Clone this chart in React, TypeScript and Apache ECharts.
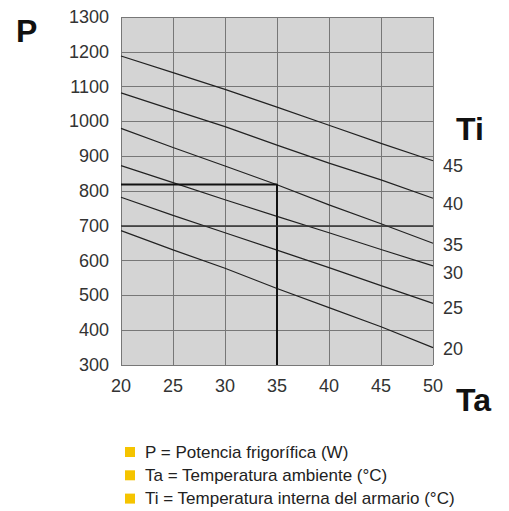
import React, { useEffect, useRef } from "react";
import * as echarts from "echarts";

const taValues = [20, 25, 30, 35, 40, 45, 50];
const tiLevels = [20, 25, 30, 35, 40, 45];
const pTi20 = [686, 631, 578, 520, 465, 410, 350];
const pTi25 = [782, 730, 680, 630, 580, 528, 477];
const pTi30 = [873, 824, 775, 727, 680, 632, 585];
const pTi35 = [980, 925, 872, 818, 760, 706, 650];
const pTi40 = [1082, 1033, 985, 932, 880, 832, 779];
const pTi45 = [1188, 1140, 1092, 1041, 989, 937, 887];
const curves = [pTi20, pTi25, pTi30, pTi35, pTi40, pTi45];
const labelDy = [1, 5, 7, 2, 6, 5];

const exampleTa = 35;
const exampleP = 819;
const refLineP = 700;

const legendItems = [
  "P = Potencia frigorífica (W)",
  "Ta = Temperatura ambiente (°C)",
  "Ti = Temperatura interna del armario (°C)",
];

const FONT = "'Liberation Sans', Arial, Helvetica, sans-serif";

export default function App() {
  const ref = useRef<HTMLDivElement>(null);
  useEffect(() => {
    document.body.style.margin = "0";
    const chart = echarts.init(ref.current!, null, { renderer: "svg" });
    const series: any[] = curves.map((vals, i) => ({
      type: "line",
      name: "Ti " + tiLevels[i],
      data: taValues.map((t, k) => [t, vals[k]]),
      showSymbol: false,
      symbol: "none",
      smooth: false,
      lineStyle: { color: "#222", width: 1.2 },
      endLabel: {
        show: true,
        formatter: String(tiLevels[i]),
        fontSize: 18,
        fontFamily: FONT,
        color: "#333",
        distance: 10,
        offset: [0, labelDy[i]],
      },
      z: 3,
    }));
    series.push({
      type: "line",
      name: "example",
      data: [
        [taValues[0], exampleP],
        [exampleTa, exampleP],
        [exampleTa, 300],
      ],
      showSymbol: false,
      symbol: "none",
      lineStyle: { color: "#111", width: 2 },
      markLine: {
        silent: true,
        symbol: "none",
        label: { show: false },
        lineStyle: { color: "#333", width: 1.5, type: "solid" },
        data: [{ yAxis: refLineP }],
      },
      z: 4,
    });

    const graphics: any[] = [
      { type: "text", left: 16, top: 15, style: { text: "P", fontSize: 32, fontWeight: "bold", fontFamily: FONT, fill: "#111" } },
      { type: "text", left: 456, top: 113, style: { text: "Ti", fontSize: 32, fontWeight: "bold", fontFamily: FONT, fill: "#111" } },
      { type: "text", left: 456, top: 384, style: { text: "Ta", fontSize: 32, fontWeight: "bold", fontFamily: FONT, fill: "#111" } },
    ];
    legendItems.forEach((txt, i) => {
      graphics.push({
        type: "rect",
        shape: { x: 125, y: 447 + i * 23.3, width: 10, height: 10 },
        style: { fill: "#f5c400" },
      });
      graphics.push({
        type: "text",
        x: 145,
        y: 452 + i * 23.3,
        style: { text: txt, fontSize: 17, fontFamily: FONT, fill: "#222", textVerticalAlign: "middle" },
      });
    });

    chart.setOption({
      animation: false,
      grid: {
        left: 121,
        right: 76,
        top: 17,
        bottom: 146,
        show: true,
        backgroundColor: "#d4d4d4",
        borderWidth: 0,
      },
      xAxis: {
        type: "value",
        min: 20,
        max: 50,
        interval: 5,
        axisLine: { show: false },
        axisTick: { show: false },
        axisLabel: { fontSize: 18, fontFamily: FONT, color: "#333", margin: 12 },
        splitLine: { show: true, lineStyle: { color: "#777", width: 1 } },
      },
      yAxis: {
        type: "value",
        min: 300,
        max: 1300,
        interval: 100,
        axisLine: { show: false },
        axisTick: { show: false },
        axisLabel: { fontSize: 18, fontFamily: FONT, color: "#333", margin: 12, formatter: (v: number) => String(v) },
        splitLine: { show: true, lineStyle: { color: "#777", width: 1 } },
      },
      graphic: graphics,
      series,
    });
    return () => chart.dispose();
  }, []);
  return <div ref={ref} style={{ width: 509, height: 511 }} />;
}
